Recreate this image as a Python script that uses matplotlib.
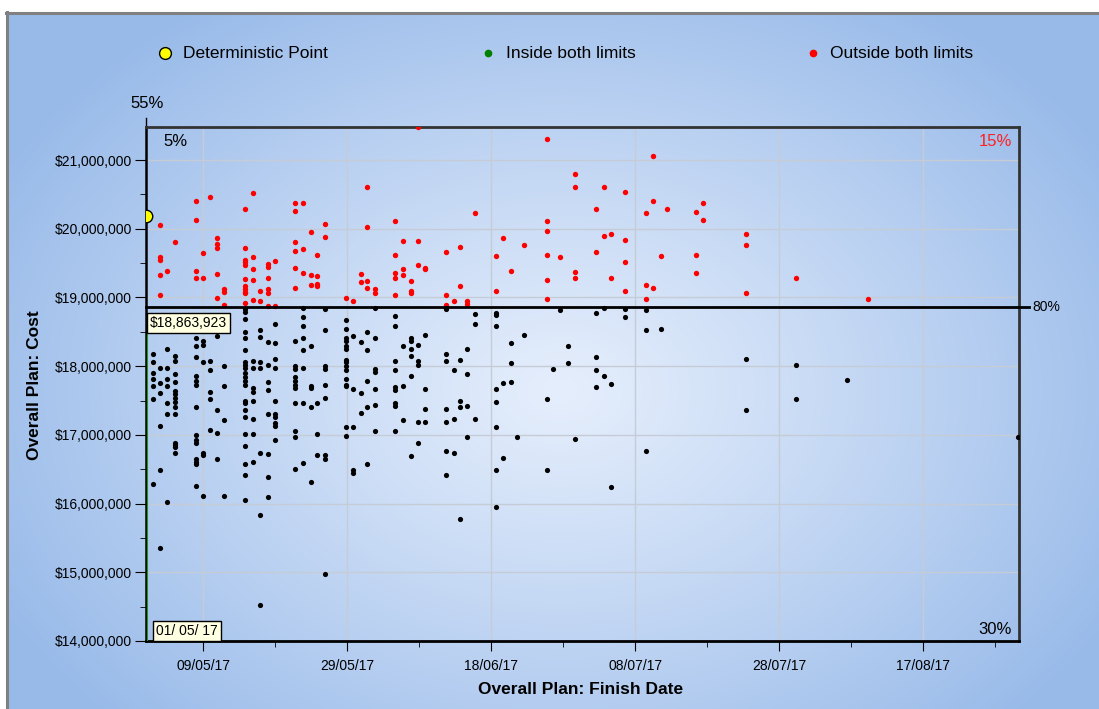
import numpy as np
import matplotlib
matplotlib.use('Agg')
import matplotlib.pyplot as plt
import matplotlib.dates as mdates
from matplotlib.lines import Line2D
from matplotlib.ticker import FixedLocator, FuncFormatter, MultipleLocator

plt.rcParams['font.family'] = ['Liberation Sans', 'DejaVu Sans']

# finish date = days after 01/05/17, cost in $M (points grouped by finish-date column)
start_date = '2017-05-01'
p80_cost = 18863923
det_day, det_cost = 0.0, 20.19
inside_range = [14.0, 18.48]

red_days = [2.0, 3.0, 4.1, 7.0, 8.0, 8.9, 9.9, 10.9, 13.8, 14.9, 15.9, 17.0, 17.9, 20.8,
            21.8, 22.9, 23.8, 24.9, 27.9, 28.8, 29.9, 30.8, 31.8, 34.7, 35.8, 36.8, 37.8,
            38.8, 41.7, 42.8, 43.7, 44.6, 45.7, 48.7, 49.6, 50.7, 52.6, 55.7, 57.5, 59.6,
            62.5, 63.7, 64.6, 66.6, 69.5, 70.5, 71.6, 72.4, 76.5, 77.4, 83.4, 90.4, 100.4]
red_costs = [
    [20.05, 19.59, 19.55, 19.32, 19.03],
    [19.38],
    [19.80],
    [20.40, 20.13, 19.39, 19.29],
    [19.64, 19.29],
    [20.46],
    [19.86, 19.78, 19.72, 19.34, 18.99],
    [19.12, 19.08, 18.89],
    [20.28, 19.72, 19.55, 19.51, 19.47, 19.27, 19.16, 19.12, 19.08, 19.06, 18.92],
    [20.52, 19.59, 19.41, 19.25, 18.96],
    [19.10, 18.95],
    [19.49, 19.45, 19.29, 19.12, 19.06, 18.87],
    [19.53, 18.87],
    [20.38, 20.26, 19.80, 19.68, 19.43, 19.14],
    [20.38, 19.70, 19.35],
    [19.95, 19.33, 19.18],
    [19.62, 19.31, 19.20, 19.16],
    [20.07, 19.88],
    [18.99],
    [18.95],
    [19.34, 19.22],
    [20.61, 20.03, 19.24, 19.14],
    [19.12, 19.06],
    [20.11, 19.62, 19.35, 19.29, 19.03],
    [19.82, 19.41, 19.33],
    [19.24, 19.10, 19.06],
    [21.48, 19.82, 19.47],
    [19.43, 19.41],
    [19.66, 19.03, 18.89],
    [18.95],
    [19.74, 19.16],
    [18.95, 18.91],
    [20.23],
    [19.60, 19.10],
    [19.86],
    [19.39],
    [19.76],
    [21.31, 20.11, 19.97, 19.62, 19.25, 18.97],
    [19.59],
    [20.80, 20.61, 19.37, 19.29],
    [20.28, 19.66],
    [20.61, 19.90],
    [19.93, 19.29],
    [20.53, 19.84, 19.51, 19.10],
    [20.23, 19.18, 18.97],
    [21.06, 20.41, 19.14],
    [19.60],
    [20.28],
    [20.24, 19.62, 19.35],
    [20.38, 20.13],
    [19.93, 19.76, 19.06],
    [19.29],
    [18.98],
]

black_days = [1.0, 2.0, 3.0, 4.1, 7.0, 8.0, 8.9, 9.9, 10.9, 13.8, 14.9, 15.9, 17.0, 17.9,
              20.8, 21.8, 22.9, 23.8, 24.9, 27.9, 28.8, 29.9, 30.8, 31.8, 34.7, 35.8, 36.8,
              37.8, 38.8, 41.7, 42.8, 43.7, 44.6, 45.7, 48.7, 49.6, 50.7, 51.6, 52.6, 55.7,
              56.6, 57.5, 58.7, 59.6, 62.5, 63.7, 64.6, 66.6, 69.5, 71.6, 83.4, 90.4, 97.4,
              121.2]
black_costs = [
    [18.18, 18.06, 17.90, 17.82, 17.71, 17.52, 16.28],
    [17.97, 17.75, 17.61, 17.13, 16.49, 15.35],
    [18.25, 17.97, 17.81, 17.71, 17.46, 17.30, 16.03],
    [18.15, 18.08, 17.88, 17.77, 17.64, 17.60, 17.54, 17.48, 17.40, 17.30, 16.88, 16.85, 16.83, 16.74],
    [18.41, 18.29, 18.13, 17.85, 17.79, 17.73, 17.40, 17.00, 16.92, 16.88, 16.65, 16.61, 16.58, 16.26],
    [18.37, 18.31, 18.06, 16.74, 16.70, 16.11],
    [18.08, 17.94, 17.63, 17.52, 17.07],
    [18.44, 17.36, 17.03, 16.65],
    [18.00, 17.71, 17.21, 16.11],
    [18.83, 18.79, 18.69, 18.50, 18.41, 18.24, 18.06, 18.02, 17.98, 17.90, 17.84, 17.78, 17.73,
     17.50, 17.46, 17.36, 17.26, 17.01, 16.84, 16.57, 16.42, 16.05],
    [18.08, 17.98, 17.68, 17.62, 17.50, 17.23, 17.01, 16.61],
    [18.52, 18.42, 18.06, 17.98, 16.74, 15.83, 14.52],
    [18.35, 18.02, 17.77, 17.65, 17.30, 16.72, 16.38, 16.09],
    [18.62, 18.33, 18.11, 17.98, 17.50, 17.30, 17.26, 17.17, 17.13, 16.92],
    [18.37, 18.00, 17.96, 17.84, 17.78, 17.73, 17.68, 17.47, 17.06, 16.97, 16.51],
    [18.85, 18.71, 18.58, 18.41, 18.23, 17.98, 17.47, 16.59],
    [18.29, 17.71, 17.68, 17.40, 16.32],
    [17.46, 17.01, 16.70],
    [18.83, 18.52, 18.00, 17.96, 17.73, 17.54, 16.70, 16.65, 14.98],
    [18.67, 18.54, 18.41, 18.37, 18.29, 18.25, 18.09, 18.06, 18.00, 17.94, 17.82, 17.73, 17.71,
     17.11, 16.99],
    [18.44, 17.67, 17.11, 16.49, 16.44],
    [18.35, 17.61, 17.32],
    [18.50, 18.23, 17.79, 17.40, 16.57],
    [18.85, 18.41, 17.96, 17.92, 17.67, 17.44, 17.05],
    [18.73, 18.58, 18.08, 17.94, 17.69, 17.65, 17.46, 17.42, 17.05],
    [18.29, 17.71, 17.21],
    [18.41, 18.37, 18.25, 18.15, 17.86, 16.69],
    [18.31, 18.08, 18.02, 17.19, 16.88],
    [18.46, 17.67, 17.38, 17.19],
    [18.85, 18.83, 18.17, 18.08, 17.38, 17.19, 16.76, 16.42],
    [17.94, 17.23, 16.74],
    [18.09, 17.50, 17.40, 15.78],
    [18.25, 17.88, 17.42, 16.97],
    [18.76, 18.62, 17.23],
    [18.77, 18.74, 18.58, 17.67, 17.48, 17.11, 16.49, 15.95],
    [17.75, 16.66],
    [18.33, 18.04, 17.77],
    [16.97],
    [18.46],
    [17.52, 16.49],
    [17.96],
    [18.81],
    [18.29, 18.04],
    [16.94],
    [18.77, 18.13, 17.94, 17.69],
    [18.85, 17.86],
    [17.74, 16.24],
    [18.83, 18.71],
    [18.81, 18.52, 16.76],
    [18.54],
    [18.10, 17.36],
    [18.02, 17.52],
    [17.80],
    [16.97],
]

major_dates = ['2017-05-09', '2017-05-29', '2017-06-18', '2017-07-08', '2017-07-28', '2017-08-17']
last_day = 121.3


def expand(days, costs):
    xs = np.repeat(days, [len(c) for c in costs])
    ys = np.concatenate([np.array(c) for c in costs]) * 1e6
    return base + xs, ys


base = mdates.date2num(np.datetime64(start_date))
rx, ry = expand(red_days, red_costs)
bx, by = expand(black_days, black_costs)

W, H = 1099, 709
fig = plt.figure(figsize=(W / 100, H / 100), dpi=100, facecolor='white')


def fx(px):
    return px / W


def fy(py):
    return 1 - py / H


# background gradient
bg = fig.add_axes([fx(8), 0, 1 - fx(8), 1 - 14 / H], zorder=-10)
yy, xx = np.mgrid[14:H, 8:W]
d = np.sqrt(((xx - 560) / 640.0) ** 2 + ((yy - 390) / 470.0) ** 2)
d = np.clip(d, 0, 1) ** 1.1
inner = np.array([229, 238, 252]) / 255
outer = np.array([152, 186, 233]) / 255
img = inner[None, None, :] + (outer - inner)[None, None, :] * d[:, :, None]
bg.imshow(img, aspect='auto', extent=[0, 1, 0, 1], interpolation='bilinear')
bg.axis('off')
fig.add_artist(Line2D([fx(6), 1], [fy(13), fy(13)], color='#808080', lw=2.2))
fig.add_artist(Line2D([fx(7), fx(7)], [0, fy(12)], color='#808080', lw=2.2))

ax = fig.add_axes([fx(145.7), fy(641), (1018.7 - 145.7) / W, (641 - 127.3) / H])
ax.set_facecolor('none')
ax.set_xlim(base, base + last_day)
ax.set_ylim(14.0e6, 21.476e6)

majors = [mdates.date2num(np.datetime64(s)) for s in major_dates]
ax.xaxis.set_major_locator(FixedLocator(majors))
ax.xaxis.set_minor_locator(FixedLocator([m + 10 for m in majors]))
ax.xaxis.set_major_formatter(mdates.DateFormatter('%d/%m/%y'))
ax.yaxis.set_major_locator(MultipleLocator(1e6))
ax.yaxis.set_minor_locator(MultipleLocator(5e5))
ax.yaxis.set_major_formatter(FuncFormatter(lambda v, p: f'${v:,.0f}'))
ax.tick_params(axis='both', which='major', direction='out', labelsize=10, colors='black')
ax.tick_params(axis='y', which='major', length=8, pad=2)
ax.tick_params(axis='y', which='minor', length=4)
ax.tick_params(axis='x', which='major', length=7, pad=6)
ax.tick_params(axis='x', which='minor', length=4)
ax.grid(True, which='major', color='#c6ccd6', lw=1)
ax.set_axisbelow(True)

for side, c, w in [('left', 'black', 1.8), ('bottom', 'black', 2), ('top', '#333333', 2), ('right', '#333333', 2)]:
    ax.spines[side].set_color(c)
    ax.spines[side].set_linewidth(w)

ax.vlines(base + 0.2, inside_range[0] * 1e6, inside_range[1] * 1e6, color='#10a010', lw=0.8, zorder=3)
ax.scatter(rx, ry, s=15, color='#ff0000', lw=0, zorder=3)
ax.scatter(bx, by, s=14, color='black', lw=0, zorder=3)
ax.plot([base + det_day], [det_cost * 1e6], 'o', ms=9, mfc='#ffff00', mec='black', mew=1, zorder=4)

ytr = ax.get_yaxis_transform()
ax.plot([0, 1.012], [p80_cost, p80_cost], color='black', lw=2, transform=ytr, clip_on=False, zorder=5)
ax.text(1.016, p80_cost, '80%', transform=ytr, fontsize=10, va='center', ha='left')
xtr = ax.get_xaxis_transform()
ax.plot([base + det_day, base + det_day], [1.0, 1.018], color='black', lw=1, transform=xtr, clip_on=False)

fig.text(fx(150), fy(323), f'${p80_cost:,}', fontsize=10, va='center', ha='left',
         bbox=dict(boxstyle='square,pad=0.22', fc='#ffffe1', ec='black', lw=1), zorder=10)
fig.text(fx(156), fy(631), mdates.num2date(base).strftime('%d/ %m/ %y'), fontsize=10,
         va='center', ha='left', bbox=dict(boxstyle='square,pad=0.22', fc='#ffffe1', ec='black', lw=1),
         zorder=10)

fig.text(fx(130), fy(103), '55%', fontsize=12, va='center', ha='left')
fig.text(fx(163), fy(141), '5%', fontsize=12, va='center', ha='left')
fig.text(fx(1012), fy(141), '15%', fontsize=12, va='center', ha='right', color='#ff2020')
fig.text(fx(1012), fy(630), '30%', fontsize=12, va='center', ha='right')

# legend row
fig.add_artist(Line2D([fx(165)], [fy(53)], marker='o', ms=8.5, mfc='#ffff00', mec='black', mew=1))
fig.text(fx(183), fy(53), 'Deterministic Point', fontsize=12.5, va='center', ha='left')
fig.add_artist(Line2D([fx(488)], [fy(53)], marker='o', ms=4.5, mfc='#008000', mec='#008000'))
fig.text(fx(506), fy(53), 'Inside both limits', fontsize=12.5, va='center', ha='left')
fig.add_artist(Line2D([fx(813)], [fy(53)], marker='o', ms=4.5, mfc='#ff0000', mec='#ff0000'))
fig.text(fx(830), fy(53), 'Outside both limits', fontsize=12.5, va='center', ha='left')

fig.text(fx(581), fy(690), 'Overall Plan: Finish Date', fontsize=12.5, fontweight='bold',
         va='center', ha='center')
fig.text(fx(35), fy(385), 'Overall Plan: Cost', fontsize=12.5, fontweight='bold',
         va='center', ha='center', rotation=90)

fig.savefig('out.png', dpi=100, facecolor='white')
